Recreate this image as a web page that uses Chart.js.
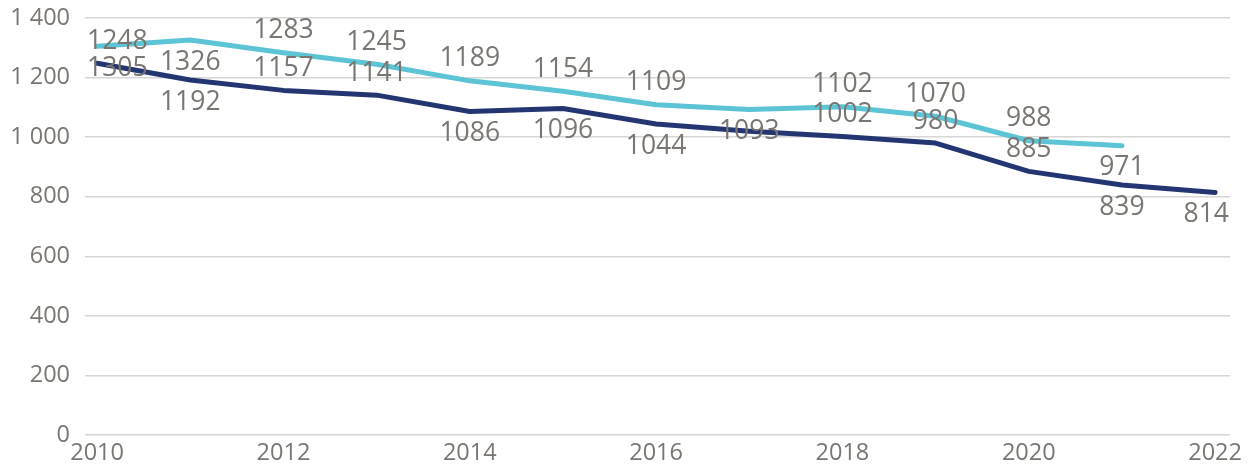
<!DOCTYPE html>
<html>
<head>
<meta charset="utf-8">
<script src="https://cdn.jsdelivr.net/npm/chart.js@4/dist/chart.umd.min.js"></script>
<style>
html,body{margin:0;padding:0;background:#fff;}
#wrap{width:1255px;height:468px;position:relative;}
</style>
</head>
<body>
<div id="wrap"><canvas id="c" width="1255" height="468"></canvas></div>
<script>
const years = [2010,2011,2012,2013,2014,2015,2016,2017,2018,2019,2020,2021,2022];
const lightSeries = [1305,1326,1283,1245,1189,1154,1109,1093,1102,1070,988,971,null];
const darkSeries  = [1248,1192,1157,1141,1086,1096,1044,1020,1002,980,885,839,814];
const lightLabelSide = ['below','below','above','above','above','above','above','below','above','above','above','below',null];
const darkLabelSide  = ['above','below','above','above','below','below','below',null,'above','above','above','below','below'];
const xTicks = [2010,2012,2014,2016,2018,2020,2022];
const yTicks = [0,200,400,600,800,1000,1200,1400];

const textColor = '#7a7672';
const fontFamily = '"Open Sans", "Noto Sans", sans-serif';

function fmt(v){
  return String(v).replace(/\B(?=(\d{3})+(?!\d))/g, ' ');
}

const labelPlugin = {
  id: 'pointLabels',
  afterDatasetsDraw(chart){
    const ctx = chart.ctx;
    const area = chart.chartArea;
    ctx.save();
    ctx.font = '26.5px ' + fontFamily;
    ctx.fillStyle = textColor;
    ctx.textAlign = 'left';
    ctx.textBaseline = 'middle';
    chart.data.datasets.forEach((ds, di) => {
      const meta = chart.getDatasetMeta(di);
      const sides = ds.labelSides;
      meta.data.forEach((pt, i) => {
        const v = ds.data[i].y;
        if (v == null || !sides[i]) return;
        const txt = String(v);
        const w = ctx.measureText(txt).width;
        let x = pt.x - w/2;
        if (x < area.left + 2) x = area.left + 2;
        if (x + w > area.right - 1) x = area.right - 1 - w;
        const y = pt.y + (sides[i] === 'above' ? -22 : 22);
        ctx.fillText(txt, x, y);
      });
    });
    ctx.restore();
  }
};

const mk = arr => years.map((yr,i) => ({x: yr, y: arr[i]}));

new Chart(document.getElementById('c'), {
  type: 'line',
  data: {
    datasets: [
      {
        label: 'A',
        data: mk(lightSeries),
        labelSides: lightLabelSide,
        borderColor: '#5cc4d5',
        borderWidth: 5,
        pointRadius: 0,
        tension: 0,
        borderCapStyle: 'round',
        borderJoinStyle: 'round',
        spanGaps: false
      },
      {
        label: 'B',
        data: mk(darkSeries),
        labelSides: darkLabelSide,
        borderColor: '#243672',
        borderWidth: 5,
        pointRadius: 0,
        tension: 0,
        borderCapStyle: 'round',
        borderJoinStyle: 'round'
      }
    ]
  },
  options: {
    responsive: false,
    animation: false,
    layout: { padding: { top: 18, right: 25, left: 0, bottom: 0 } },
    plugins: { legend: { display: false }, tooltip: { enabled: false } },
    scales: {
      x: {
        type: 'linear',
        min: 2009.87,
        max: 2022.16,
        afterBuildTicks: axis => { axis.ticks = xTicks.map(v => ({value: v})); },
        afterFit: s => { s.height = 33; s.paddingLeft = 0; s.paddingRight = 0; },
        grid: { display: false, drawTicks: false },
        border: { display: false },
        ticks: {
          color: textColor,
          font: { family: fontFamily, size: 23.5 },
          padding: 4,
          maxRotation: 0,
          autoSkip: false,
          callback: v => String(v)
        }
      },
      y: {
        min: 0,
        max: 1400,
        afterBuildTicks: axis => { axis.ticks = yTicks.map(v => ({value: v})); },
        afterFit: s => { s.width = 85; s.paddingTop = 0; s.paddingBottom = 0; },
        grid: { color: '#d6d6d6', lineWidth: 1.5, drawTicks: false },
        border: { display: false },
        ticks: {
          color: textColor,
          font: { family: fontFamily, size: 23.5 },
          padding: 15,
          callback: v => fmt(v)
        }
      }
    }
  },
  plugins: [labelPlugin]
});
</script>
</body>
</html>
